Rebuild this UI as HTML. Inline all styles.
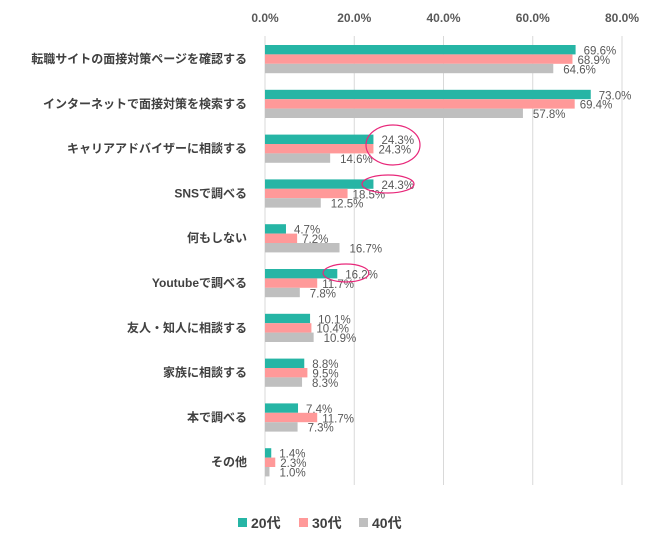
<!DOCTYPE html>
<html><head><meta charset="utf-8"><style>
body{margin:0;background:#fff;}
svg text{font-family:"Liberation Sans","Noto Sans CJK JP",sans-serif;}
</style></head><body>
<svg width="650" height="546" id="c"></svg>
<script>
const categories=["転職サイトの面接対策ページを確認する","インターネットで面接対策を検索する","キャリアアドバイザーに相談する","SNSで調べる","何もしない","Youtubeで調べる","友人・知人に相談する","家族に相談する","本で調べる","その他"];
const s20=[69.6,73.0,24.3,24.3,4.7,16.2,10.1,8.8,7.4,1.4];
const s30=[68.9,69.4,24.3,18.5,7.2,11.7,10.4,9.5,11.7,2.3];
const s40=[64.6,57.8,14.6,12.5,16.7,7.8,10.9,8.3,7.3,1.0];
const ticks=[0,20,40,60,80];
const seriesNames=["20代","30代","40代"];
const svg=document.getElementById('c');const NS='http://www.w3.org/2000/svg';
function el(t,a,p){const e=document.createElementNS(NS,t);for(const k in a)e.setAttribute(k,a[k]);(p||svg).appendChild(e);return e;}
const x=v=>265+v*(622-265)/80;
const gy=i=>45+i*44.8;
const bh=9.4;
ticks.forEach(t=>{
 const l=el('line',{x1:x(t),x2:x(t),y1:36,y2:485,stroke:'#d9d9d9','stroke-width':1});
 
 
 const tx=el('text',{x:x(t),y:22,'text-anchor':'middle','font-size':12,'font-weight':'bold',fill:'#595959'});
 tx.textContent=t.toFixed(1)+'%';
 
 
});
const colors=['#26b5a5','#ff9999','#bfbfbf'];
const series=[s20,s30,s40];
categories.forEach((c,i)=>{
 const t=el('text',{x:247,y:gy(i)+18,'text-anchor':'end','font-size':12,'font-weight':'bold',fill:'#404040'});
 t.textContent=c;
 
 
 series.forEach((s,j)=>{
  const y=gy(i)+j*bh;
  const r=el('rect',{x:x(0),y:y,width:x(s[i])-x(0),height:bh,fill:colors[j]});
  
  
  const lb=el('text',{x:x(s[i])+(j==0?8:j==1?5:10),y:y+9.5,'font-size':11.5,fill:'#595959'});
  lb.textContent=s[i].toFixed(1)+'%';
  
  
 });
});
[[393,145,27,20],[388,184,26,9],[346,273,23,9]].forEach(e=>{
 const o=el('ellipse',{cx:e[0],cy:e[1],rx:e[2],ry:e[3],fill:'none',stroke:'#e8287a','stroke-width':1.2});
 
 
});
const lx=[238,299,359];
seriesNames.forEach((n,j)=>{
 const r=el('rect',{x:lx[j],y:518,width:9,height:9,fill:colors[j]});
 
 
 const t=el('text',{x:lx[j]+13,y:528,'font-size':14,'font-weight':'bold',fill:'#404040'});
 t.textContent=n;
 
 
});
</script>
</body></html>
